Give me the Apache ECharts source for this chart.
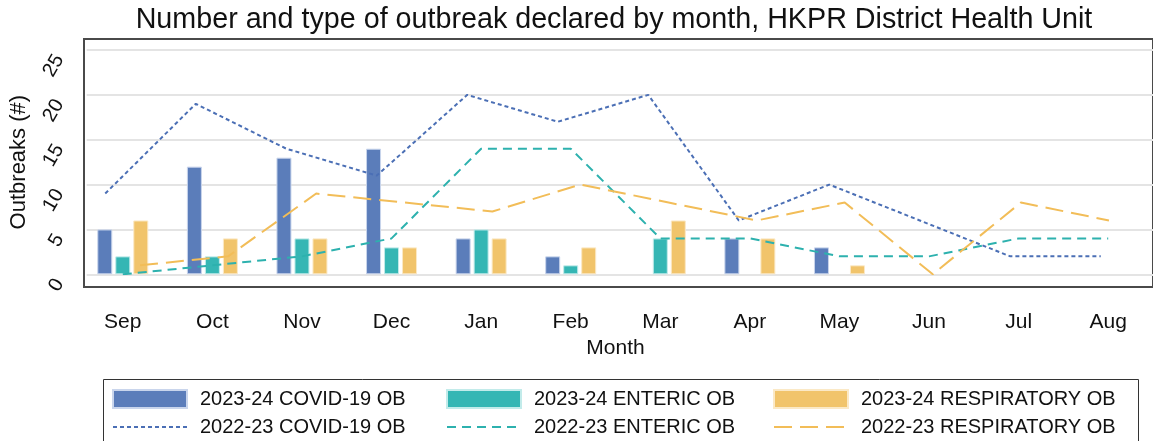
<!DOCTYPE html>
<html>
<head>
<meta charset="utf-8">
<title>Outbreaks by month</title>
<script src="https://cdn.jsdelivr.net/npm/echarts@6/dist/echarts.min.js"></script>
<style>
  html, body { margin: 0; padding: 0; background: #fff; }
  #chart { width: 1153px; height: 441px; }
</style>
</head>
<body>
<div id="chart"></div>
<script>
// categories
const months = ['Sep', 'Oct', 'Nov', 'Dec', 'Jan', 'Feb', 'Mar', 'Apr', 'May', 'Jun', 'Jul', 'Aug']

// 2023-24 bars (no bar drawn where null)
const covid2324 = [5, 12, 13, 14, 4, 2, null, 4, 3, null, null, null]
const enteric2324 = [2, 2, 4, 3, 5, 1, 4, null, null, null, null, null]
const resp2324 = [6, 4, 4, 3, 4, 3, 6, 4, 1, null, null, null]

// 2022-23 lines
const covid2223 = [9, 19, 14, 11, 20, 17, 20, 6, 10, 6, 2, 2]
const enteric2223 = [0, 1, 2, 4, 14, 14, 4, 4, 2, 2, 4, 4]
const resp2223 = [1, 2, 9, 8, 7, 10, 8, 6, 8, 0, 8, 6]

// y axis ticks
const yMin = 0
const yMax = 25
const yStep = 5

const BLUE = '#5b7dba'
const TEAL = '#35b6b4'
const YELLOW = '#f1c46b'

const font = 'Liberation Sans, Arial, sans-serif'

// same plot height for every grid so the values line up
const plotTop = 50
const plotHeight = 224.3

const hiddenY = (i) => ({
  gridIndex: i, type: 'value', min: yMin, max: yMax, interval: yStep, show: false
})
const hiddenX = (i) => ({
  gridIndex: i, type: 'category', data: months, show: false
})
const legendBase = {
  top: 389, orient: 'vertical', padding: 0, height: 60,
  itemWidth: 74, itemHeight: 18, itemGap: 8,
  textStyle: { fontFamily: font, fontSize: 20, color: '#111', padding: [0, 0, 0, 8] }
}
// line entries in the legend: only the dashed line, no marker
const lineItem = (name) => ({
  name: name,
  itemStyle: { opacity: 0, color: 'transparent', borderWidth: 0 }
})

let option = {
  animation: false,
  title: {
    text: 'Number and type of outbreak declared by month, HKPR District Health Unit',
    left: 614,
    top: 6,
    padding: 0,
    textAlign: 'center',
    textStyle: { fontFamily: font, fontSize: 28.7, fontWeight: 'normal', color: '#111' }
  },
  grid: [
    // frame round the plot
    { left: 84, top: 39, width: 1085, height: 248, show: true, borderColor: '#4a4a4a', borderWidth: 2, backgroundColor: 'transparent' },
    // grid lines + y labels
    { left: 84, top: plotTop, width: 1085, height: plotHeight },
    // bars and enteric line (month centres)
    { left: 78, top: plotTop, width: 1086, height: plotHeight },
    // covid line sits over the blue bar
    { left: 60, top: plotTop, width: 1086, height: plotHeight },
    // respiratory line sits over the yellow bar
    { left: 96, top: plotTop, width: 1086, height: plotHeight }
  ],
  xAxis: [
    { gridIndex: 1, type: 'value', show: false },
    {
      gridIndex: 2,
      type: 'category',
      data: months,
      name: 'Month',
      nameLocation: 'middle',
      nameGap: 63,
      nameTextStyle: { fontFamily: font, fontSize: 21, color: '#111' },
      axisLine: { show: false },
      axisTick: { show: false },
      axisLabel: { margin: 37, fontFamily: font, fontSize: 21, color: '#111' }
    },
    hiddenX(3),
    hiddenX(4)
  ],
  yAxis: [
    {
      gridIndex: 1,
      type: 'value',
      min: yMin,
      max: yMax,
      interval: yStep,
      name: 'Outbreaks (#)',
      nameLocation: 'middle',
      nameGap: 50,
      nameTextStyle: { fontFamily: font, fontSize: 22, color: '#111' },
      axisLine: { show: false },
      axisTick: { show: false },
      axisLabel: { rotate: 60, margin: 24, padding: [0, 7, 0, 0], fontFamily: font, fontSize: 20, color: '#111' },
      splitLine: { lineStyle: { color: '#e4e4e4', width: 2 } }
    },
    hiddenY(2),
    hiddenY(3),
    hiddenY(4)
  ],
  legend: [
    Object.assign({}, legendBase, {
      left: 112,
      data: [{ name: '2023-24 COVID-19 OB', icon: 'rect' }, lineItem('2022-23 COVID-19 OB')]
    }),
    Object.assign({}, legendBase, {
      left: 446,
      data: [{ name: '2023-24 ENTERIC OB', icon: 'rect' }, lineItem('2022-23 ENTERIC OB')]
    }),
    Object.assign({}, legendBase, {
      left: 773,
      data: [{ name: '2023-24 RESPIRATORY OB', icon: 'rect' }, lineItem('2022-23 RESPIRATORY OB')]
    })
  ],
  graphic: [
    // legend frame, runs off the bottom of the picture
    {
      type: 'rect',
      shape: { x: 103.5, y: 379.5, width: 1035, height: 80 },
      style: { fill: 'none', stroke: '#333', lineWidth: 1 }
    }
  ],
  series: [
    {
      name: '2023-24 COVID-19 OB', type: 'bar', xAxisIndex: 1, yAxisIndex: 1,
      data: covid2324, barWidth: 15, barGap: '20%',
      itemStyle: { color: BLUE, borderColor: '#c9d5ec', borderWidth: 1 }
    },
    {
      name: '2023-24 ENTERIC OB', type: 'bar', xAxisIndex: 1, yAxisIndex: 1,
      data: enteric2324, barWidth: 15, barGap: '20%',
      itemStyle: { color: TEAL, borderColor: '#c2ebea', borderWidth: 1 }
    },
    {
      name: '2023-24 RESPIRATORY OB', type: 'bar', xAxisIndex: 1, yAxisIndex: 1,
      data: resp2324, barWidth: 15, barGap: '20%',
      itemStyle: { color: YELLOW, borderColor: '#fbe9c6', borderWidth: 1 }
    },
    {
      name: '2022-23 COVID-19 OB', type: 'line', xAxisIndex: 2, yAxisIndex: 2,
      data: covid2223, symbol: 'none',
      lineStyle: { color: '#4b6fb5', width: 2, type: [4, 3] },
      itemStyle: { color: '#4b6fb5' }
    },
    {
      name: '2022-23 ENTERIC OB', type: 'line', xAxisIndex: 1, yAxisIndex: 1,
      data: enteric2223, symbol: 'none',
      lineStyle: { color: '#2db1ae', width: 2, type: [9, 6] },
      itemStyle: { color: '#2db1ae' }
    },
    {
      name: '2022-23 RESPIRATORY OB', type: 'line', xAxisIndex: 3, yAxisIndex: 3,
      data: resp2223, symbol: 'none',
      lineStyle: { color: '#f2bd58', width: 2, type: [18, 8] },
      itemStyle: { color: '#f2bd58' }
    }
  ]
}

let myChart = echarts.init(document.getElementById('chart'))
myChart.setOption(option)
</script>
</body>
</html>
